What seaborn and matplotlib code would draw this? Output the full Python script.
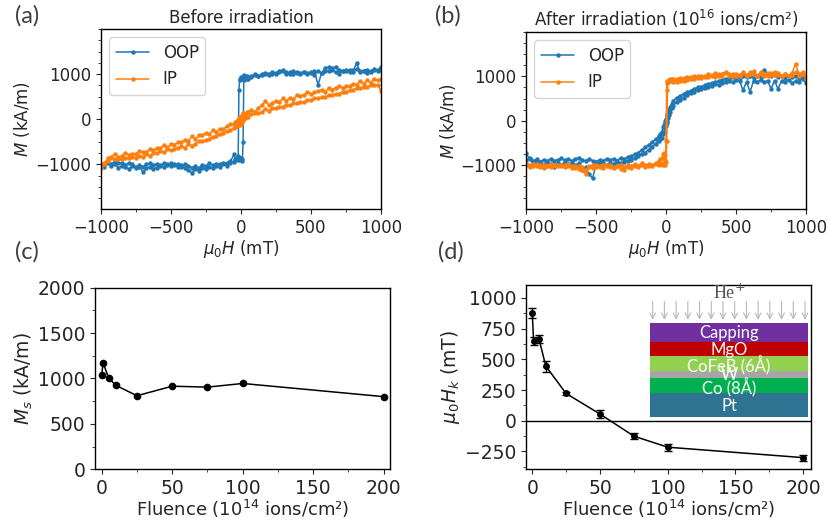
import matplotlib
matplotlib.use("Agg")
import matplotlib.pyplot as plt
from matplotlib.ticker import MultipleLocator, AutoMinorLocator
import seaborn as sns
import pandas as pd
import numpy as np

# field grid of the loops (mT), shared by every sweep branch
field_neg = [-1000, -975, -950, -925, -900, -875, -850, -825, -800, -775, -750, -725, -700,
             -675, -650, -625, -600, -575, -550, -525, -500, -475, -450, -425, -400, -375,
             -350, -325, -300, -275, -250, -225, -200, -175, -150, -125, -100, -75, -50]
field_mid = [-40, -30, -20, -15, -10, -5, 0, 5, 10, 15, 20, 30, 40]
field_pos = [50, 75, 100, 125, 150, 175, 200, 225, 250, 275, 300, 325, 350, 375, 400, 425,
             450, 475, 500, 525, 550, 575, 600, 625, 650, 675, 700, 725, 750, 775, 800, 825,
             850, 875, 900, 925, 950, 975, 1000]
field = field_neg + field_mid + field_pos

# (a) before irradiation, M (kA/m); "down" = sweep from +1000, "up" = sweep from -1000
a_oop_down = [-1060, -1010, -980, -1040, -1000, -1080, -1030, -1060, -1100, -1040, -1080, -1050, -1180,
              -1090, -1060, -1100, -1070, -1030, -1060, -1000, -1040, -1010, -1060, -1020, -1080, -1130,
              -1190, -1100, -1140, -1070, -1100, -1050, -1090, -1040, -1060, -1000, -1030, -970, -940,
              -880, -850, -820, 640, 880, 900, 940, 920, 900, 950, 980, 930, 960,
              940, 960, 980, 950, 990, 1000, 990, 1010, 1000, 1040, 1060, 1010, 1040, 1000, 1050, 1030,
              1040, 1020, 1050, 990, 1060, 1020, 1140, 1150, 1130, 1160, 1090, 1070, 1100, 1050, 1090, 1110,
              1060, 1080, 1100, 1050, 1120, 1090, 1150]
a_oop_up = [-1040, -1050, -950, -1000, -930, -980, -960, -1010, -970, -1000, -1060, -1010, -1050,
            -1000, -970, -1010, -990, -1020, -980, -1010, -970, -990, -1000, -1050, -990, -1030,
            -1070, -1040, -1080, -1010, -1040, -980, -1020, -990, -1000, -960, -980, -930, -780,
            -900, -860, -910, -880, -850, -900, -870, -920, -880, -500, 880, 920, 900,
            900, 930, 1000, 960, 1000, 1030, 1010, 1050, 1020, 1070, 1090, 1040, 1000, 1060, 1020, 1010,
            1050, 1000, 1030, 1070, 760, 1020, 1080, 1060, 1100, 1040, 1000, 1080, 1060, 1100, 1050, 1250,
            1050, 1070, 1020, 1060, 1100, 1080, 1100]
a_ip_down = [-1020, -960, -870, -830, -770, -840, -810, -750, -790, -760, -760, -710, -720,
             -730, -660, -690, -640, -640, -570, -620, -550, -560, -510, -510, -460, -480,
             -370, -440, -350, -350, -310, -330, -240, -280, -210, -210, -160, -110, -100,
             -60, -40, -10, 20, 0, 40, 60, 80, 100, 140, 90, 120, 160,
             150, 210, 170, 250, 320, 400, 310, 360, 410, 380, 470, 410, 480, 440, 530, 520,
             540, 610, 560, 600, 630, 650, 600, 690, 650, 700, 730, 690, 740, 740, 780, 770,
             840, 790, 860, 810, 900, 860, 900]
a_ip_up = [-1080, -990, -930, -870, -890, -880, -890, -860, -870, -840, -850, -810, -830,
           -770, -810, -750, -750, -710, -730, -650, -690, -660, -630, -600, -630, -550,
           -590, -540, -490, -480, -470, -430, -390, -380, -330, -310, -270, -240, -200,
           -180, -150, -130, -110, -120, -80, -100, -60, -40, -20, 0, 30, 50,
           60, 110, 130, 130, 170, 230, 190, 250, 240, 280, 280, 320, 310, 350, 350, 380,
           380, 420, 420, 460, 460, 490, 490, 530, 530, 560, 570, 610, 610, 640, 650, 690,
           690, 710, 710, 750, 750, 770, 620]

# (b) after 1e16 ions/cm2
b_oop_down = [-880, -850, -900, -870, -920, -880, -910, -860, -900, -880, -850, -890, -860,
              -900, -870, -830, -880, -900, -860, -900, -920, -880, -900, -860, -880, -860,
              -900, -840, -870, -820, -800, -760, -720, -660, -600, -540, -480, -420, -350,
              -300, -250, -150, -100, -50, 0, 50, 100, 150, 200, 250, 320, 380,
              450, 520, 560, 610, 640, 680, 720, 750, 770, 800, 830, 850, 870, 900, 920, 950,
              940, 980, 1000, 960, 1010, 980, 1000, 970, 1020, 990, 1150, 1050, 1000, 1030, 980, 1010,
              970, 1000, 980, 1020, 960, 990, 930]
b_oop_up = [-720, -860, -940, -900, -960, -1000, -940, -980, -1050, -960, -1000, -940, -980,
            -960, -1000, -960, -1100, -1050, -1200, -1300, -1000, -960, -980, -1000, -950, -970,
            -930, -960, -920, -900, -880, -850, -800, -760, -720, -650, -600, -520, -450,
            -420, -380, -300, -250, -220, -150, -120, -50, 0, 60, 120, 200, 280,
            330, 420, 470, 520, 580, 620, 650, 690, 710, 740, 760, 780, 820, 800, 850, 870,
            900, 880, 920, 900, 690, 880, 650, 900, 880, 920, 880, 900, 720, 900, 720, 900,
            880, 920, 850, 900, 880, 950, 850]
b_ip_down = [-950, -1000, -1030, -980, -1040, -990, -1020, -970, -1010, -990, -1030, -1000, -980,
             -1020, -1060, -1010, -1100, -1200, -1050, -1000, -1040, -1010, -990, -1030, -1000, -1050,
             -1010, -990, -1040, -1000, -1020, -980, -1010, -960, -1000, -980, -1010, -970, -990,
             -950, -980, -1000, -960, -1000, -940, -450, 850, 900, 880, 920, 950, 900,
             950, 880, 960, 900, 980, 940, 1000, 960, 1020, 980, 1050, 1000, 1080, 1020, 1060, 1100,
             1050, 1010, 1060, 1000, 1080, 1030, 1100, 1050, 1000, 1100, 1060, 1020, 1080, 1040, 1070, 1000,
             1050, 1020, 1080, 1280, 1050, 1100, 1000]
b_ip_up = [-1000, -1050, -980, -1020, -1000, -1060, -1010, -1040, -990, -1030, -1000, -1050, -1010,
           -1060, -1020, -1080, -1040, -1100, -1030, -1060, -1000, -1050, -1070, -1000, -1040, -1060,
           -1010, -1080, -1100, -1040, -1070, -1010, -1050, -1000, -1040, -1010, -990, -960, -900,
           -870, -850, -760, -720, -780, -880, -920, -450, 700, 880, 920, 900, 950,
           880, 940, 900, 960, 920, 980, 940, 1000, 960, 1010, 980, 1030, 990, 1050, 1000, 1080,
           1020, 1060, 1000, 1040, 1090, 1010, 1050, 1120, 1020, 1060, 1000, 1070, 1030, 1090, 1040, 1010,
           1060, 1000, 1040, 1100, 1020, 1060, 950]

# (c), (d) versus fluence (1e14 ions/cm2)
fluence = [0, 1, 5, 10, 25, 50, 75, 100, 200]
ms_vals = [1040, 1170, 1005, 925, 810, 915, 905, 945, 800]
hk_vals = [880, 650, 665, 445, 222, 55, -125, -215, -300]
hk_err = [40, 30, 35, 45, 10, 30, 25, 30, 25]

# inset stack, bottom to top
layer_names = ["Pt", "Co (8Å)", "W", "CoFeB (6Å)", "MgO", "Capping"]
layer_colors = ["#2e7391", "#00b050", "#a6a6a6", "#92d050", "#c00000", "#7030a0"]

BLUE, ORANGE = "#1f77b4", "#ff7f0e"

sns.set_style("ticks")
plt.rcParams['font.family'] = ['DejaVu Sans']
plt.rcParams['axes.edgecolor'] = 'black'
plt.rcParams['axes.linewidth'] = 1.0


def loop_frame(down, up):
    # one continuous sweep: +1000 -> -1000 -> +1000
    h = field[::-1] + field
    m = down[::-1] + up
    return pd.DataFrame({'H': h, 'M': m})


def plot_loop(ax, oop, ip, title):
    for (down, up), color, name in [(oop, BLUE, 'OOP'), (ip, ORANGE, 'IP')]:
        df = loop_frame(down, up)
        sns.lineplot(data=df, x='H', y='M', sort=False, estimator=None, ax=ax, color=color,
                     marker='o', markersize=3.2, markeredgewidth=0, linewidth=1.1, label=name)
    ax.set_xlim(-1000, 1000)
    ax.set_ylim(-1990, 2000)
    ax.set_yticks([-1000, 0, 1000])
    ax.set_xticks([-1000, -500, 0, 500, 1000])
    ax.xaxis.set_minor_locator(MultipleLocator(250))
    ax.yaxis.set_minor_locator(MultipleLocator(250))
    ax.set_xlabel(r'$\mu_0H$ (mT)', fontsize=12, labelpad=1)
    ax.set_ylabel(r'$M$ (kA/m)', fontsize=12, labelpad=2)
    ax.set_title(title, fontsize=12, pad=4)
    ax.tick_params(labelsize=12)
    ax.legend(loc='upper left', fontsize=12, handlelength=2.0)


fig = plt.figure(figsize=(8.29, 5.21), dpi=100)
ax_a = fig.add_axes([0.1218, 0.5988, 0.3378, 0.3455])
ax_b = fig.add_axes([0.6345, 0.5988, 0.3378, 0.3397])
ax_c = fig.add_axes([0.1150, 0.0992, 0.3555, 0.3487])
ax_d = fig.add_axes([0.6345, 0.0992, 0.3434, 0.3538])

plot_loop(ax_a, (a_oop_down, a_oop_up), (a_ip_down, a_ip_up), 'Before irradiation')
plot_loop(ax_b, (b_oop_down, b_oop_up), (b_ip_down, b_ip_up),
          r'After irradiation (10$^{16}$ ions/cm²)')

# (c) saturation magnetisation
df_c = pd.DataFrame({'fluence': fluence, 'Ms': ms_vals})
sns.lineplot(data=df_c, x='fluence', y='Ms', ax=ax_c, color='black', marker='o',
             markersize=5.5, markeredgewidth=0, linewidth=1.1)
ax_c.set_xlim(-4.5, 204.5)
ax_c.set_ylim(0, 2000)
ax_c.yaxis.set_major_locator(MultipleLocator(500))
ax_c.yaxis.set_minor_locator(AutoMinorLocator(2))
ax_c.xaxis.set_minor_locator(AutoMinorLocator(2))
ax_c.set_xlabel(r'Fluence (10$^{14}$ ions/cm²)', fontsize=13, labelpad=0)
ax_c.set_ylabel(r'$M_s$ (kA/m)', fontsize=13.5, labelpad=2)
ax_c.tick_params(labelsize=13.5)

# (d) anisotropy field
df_d = pd.DataFrame({'fluence': fluence, 'Hk': hk_vals, 'err': hk_err})
ax_d.axhline(0, color='black', linewidth=1.0)
sns.lineplot(data=df_d, x='fluence', y='Hk', ax=ax_d, color='black', marker='o',
             markersize=5, markeredgewidth=0, linewidth=1.1)
ax_d.errorbar(df_d['fluence'], df_d['Hk'], yerr=df_d['err'], fmt='none', ecolor='black',
              elinewidth=1.0, capsize=3, capthick=1.0)
ax_d.set_xlim(-4.6, 205.5)
ax_d.set_ylim(-395, 1105)
ax_d.yaxis.set_major_locator(MultipleLocator(250))
ax_d.yaxis.set_minor_locator(AutoMinorLocator(2))
ax_d.xaxis.set_minor_locator(AutoMinorLocator(2))
ax_d.set_xlabel(r'Fluence (10$^{14}$ ions/cm²)', fontsize=13, labelpad=0)
ax_d.set_ylabel(r'$\mu_0H_k$ (mT)', fontsize=13.5, labelpad=2)
ax_d.tick_params(labelsize=13.5)

# layer stack inset with He+ arrows
ins = ax_d.inset_axes([0.4355, 0.282, 0.555, 0.707])
ins.set_xlim(0, 158)
ins.set_ylim(0, 130)
ins.axis('off')
heights = [24.6, 15, 7, 14.7, 14.3, 19]
bottoms = np.concatenate([[0], np.cumsum(heights)[:-1]])
ins.bar(x=79, height=heights, bottom=bottoms, width=158, color=layer_colors, linewidth=0)
label_y = [11.3, 30.6, 42.3, 52.3, 67.3, 84]
for name, y in zip(layer_names, label_y):
    ins.text(79, y, name, color='white', fontsize=12, family='Lato', ha='center', va='center')
for xp in np.linspace(2.7, 155, 14):
    ins.annotate('', xy=(xp, 97.3), xytext=(xp, 115.6),
                 arrowprops=dict(arrowstyle='->', color='#b8b8b8', lw=0.8, shrinkA=0, shrinkB=0))
ins.text(79, 124, r'He$^{+}$', color='#555555', fontsize=13, family='Liberation Serif',
         ha='center', va='center')

# panel letters
for letter, px, py in [('(a)', 27, 16), ('(b)', 448, 16), ('(c)', 27, 252), ('(d)', 451, 252)]:
    fig.text(px / 829, 1 - py / 521, letter, fontsize=17, family='Lato', color='#404040',
             ha='center', va='center')

fig.savefig('out.png', dpi=100)
